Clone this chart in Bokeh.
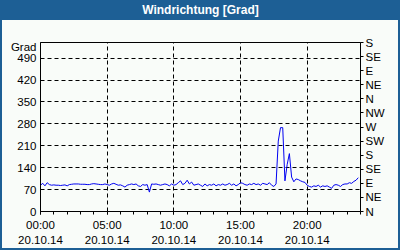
import numpy as np
from bokeh.plotting import figure
from bokeh.models import FixedTicker, LinearAxis, Title, Range1d
from bokeh.embed import file_html
from bokeh.resources import INLINE

# ---- data -------------------------------------------------------------
title_text = "Windrichtung [Grad]"
unit_label = "Grad"
# 10-minute samples for 20.10.14 (degrees)
direction = [
    84, 90, 82, 92, 86, 84,
    85, 84, 84, 83, 84, 85,
    82, 86, 87, 88, 88, 88,
    87, 87, 87, 86, 86, 88,
    89, 88, 87, 86, 86, 88,
    86, 84, 88, 90, 87, 84,
    85, 82, 78, 84, 86, 88,
    86, 88, 82, 80, 86, 84,
    86, 62, 88, 87, 88, 86,
    84, 86, 88, 86, 82, 88,
    84, 86, 92, 98, 86, 90,
    100, 88, 94, 84, 86, 88,
    84, 80, 88, 82, 86, 84,
    88, 82, 86, 84, 88, 84,
    86, 90, 84, 88, 82, 86,
    92, 90, 86, 84, 88, 86,
    90, 86, 88, 84, 90, 88,
    86, 92, 84, 80, 88, 225,
    268, 268, 98, 150, 185, 110,
    95, 104, 102, 98, 95, 93,
    84, 80, 78, 82, 80, 84,
    78, 82, 80, 82, 78, 74,
    84, 86, 84, 80, 86, 88,
    88, 92, 90, 96, 100, 108,
]
hours = [i / 6 for i in range(len(direction))]

x_ticks = [0, 5, 10, 15, 20]
x_tick_labels = ["00:00\n20.10.14", "05:00\n20.10.14", "10:00\n20.10.14",
                 "15:00\n20.10.14", "20:00\n20.10.14"]
y_ticks = [0, 70, 140, 210, 280, 350, 420, 490]
compass_ticks = [0, 45, 90, 135, 180, 225, 270, 315, 360, 405, 450, 495, 540]
compass_labels = ["N", "NE", "E", "SE", "S", "SW", "W", "NW", "N", "NE", "E", "SE", "S"]

# ---- style ------------------------------------------------------------
BLUE = "#1d5f95"
BG = "#f9fcf9"
FONT = "Liberation Sans"

p = figure(width=400, height=250, output_backend="svg", toolbar_location=None,
           x_range=Range1d(0, 24), y_range=Range1d(0, 540),
           min_border_left=40, min_border_right=40, min_border_top=41,
           min_border_bottom=39, background_fill_color=BG, border_fill_color=None,
           outline_line_color="black", outline_line_width=1)
p.styles = {
    "background": f"linear-gradient(to bottom, {BLUE} 0px, {BLUE} 20px, {BG} 20px, {BG} 100%)",
    "outline": f"2px solid {BLUE}",
    "outline-offset": "-2px",
}

# title: a blank second line with tall line height lifts the text into the bar
p.title = Title(text=title_text + "\n ", align="center", offset=9,
                text_color="white", text_font=FONT, text_font_style="bold",
                text_font_size="12px", text_line_height=1.85, standoff=0)

p.line(hours, direction, line_color="#0000f0", line_width=1)

# bottom axis
xa = p.xaxis[0]
xa.ticker = FixedTicker(ticks=x_ticks, minor_ticks=list(range(0, 25)))
xa.major_label_overrides = {t: l for t, l in zip(x_ticks, x_tick_labels)}
xa.major_tick_out = 3
xa.major_tick_in = 0
xa.minor_tick_out = 3
xa.minor_tick_in = 0
xa.major_label_standoff = 4
xa.major_label_text_font = FONT
xa.major_label_text_font_size = "11.5px"
xa.major_label_text_line_height = 1.3
xa.major_label_text_color = "black"
xa.axis_line_color = "black"

# left axis (unit label shown at the top position)
ya = p.yaxis[0]
ya.ticker = FixedTicker(ticks=y_ticks + [525], minor_ticks=[])
ya.major_label_overrides = {525: unit_label}
ya.major_tick_out = 0
ya.major_tick_in = 0
ya.minor_tick_out = 0
ya.major_label_standoff = 4
ya.major_label_text_font = FONT
ya.major_label_text_font_size = "11.5px"
ya.major_label_text_color = "black"

# right compass axis
ra = LinearAxis(ticker=FixedTicker(ticks=compass_ticks, minor_ticks=[]))
ra.major_label_overrides = {t: l for t, l in zip(compass_ticks, compass_labels)}
ra.major_tick_out = 3
ra.major_tick_in = 0
ra.minor_tick_out = 0
ra.major_label_standoff = 2
ra.major_label_text_font = FONT
ra.major_label_text_font_size = "11.5px"
ra.major_label_text_color = "black"
p.add_layout(ra, "right")

# grid
p.xgrid.ticker = FixedTicker(ticks=[5, 10, 15, 20])
p.ygrid.ticker = FixedTicker(ticks=y_ticks[1:])
for g in (p.xgrid[0], p.ygrid[0]):
    g.grid_line_color = "black"
    g.grid_line_dash = "4 3"
    g.grid_line_width = 1

open("out.html", "w").write(file_html(p, INLINE))
